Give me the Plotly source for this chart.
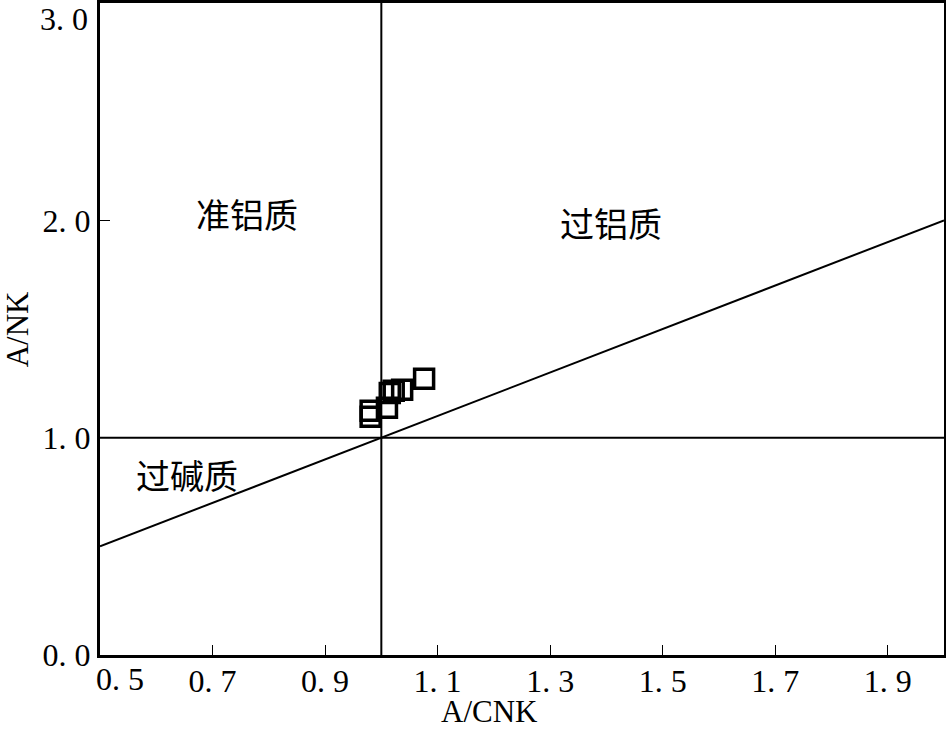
import plotly.graph_objects as go

# sample points (A/CNK, A/NK)
acnk = [0.981, 0.981, 1.010, 1.015, 1.022, 1.037, 1.076]
anks = [1.124, 1.096, 1.138, 1.206, 1.216, 1.220, 1.271]

# field boundaries
vline_x = [1.0, 1.0]
vline_y = [0.0, 3.0]
hline_x = [0.5, 2.0]
hline_y = [1.0, 1.0]
diag_x = [0.5, 2.0]
diag_y = [0.5, 2.0]

x_ticks = [0.5, 0.7, 0.9, 1.1, 1.3, 1.5, 1.7, 1.9]
x_labels = ["", "0. 7", "0. 9", "1. 1", "1. 3", "1. 5", "1. 7", "1. 9"]
y_ticks = [0.0, 1.0, 2.0, 3.0]
y_labels = ["0. 0", "1. 0", "2. 0", ""]

fields = ["准铝质", "过铝质", "过碱质"]
field_x = [0.762, 1.409, 0.655]
field_y = [2.032, 1.991, 0.830]

SERIF = "Liberation Serif, Times New Roman, serif"
CJK = "Noto Sans CJK SC"
FS = 32

fig = go.Figure()
line_style = {"color": "black", "width": 2}
for xs, ys in [(vline_x, vline_y), (hline_x, hline_y), (diag_x, diag_y)]:
    fig.add_trace(go.Scatter(x=xs, y=ys, mode="lines", line=line_style,
                             showlegend=False, hoverinfo="skip"))

fig.add_trace(go.Scatter(
    x=acnk, y=anks, mode="markers", showlegend=False,
    marker={"symbol": "square-open", "size": 19, "color": "black",
            "line": {"width": 3.5, "color": "black"}},
))

for text, x, y in zip(fields, field_x, field_y):
    fig.add_annotation(x=x, y=y, text=text, showarrow=False,
                       font={"family": CJK, "size": 34, "color": "black"})

# end labels that would be clipped at the plot corners
fig.add_annotation(x=-0.012, y=3.0, xref="paper", yref="y", text="3. 0",
                   showarrow=False, xanchor="right", yanchor="top", yshift=4,
                   font={"family": SERIF, "size": FS, "color": "black"})
fig.add_annotation(x=0.5, y=0, xref="x", yref="paper", text="0. 5",
                   showarrow=False, xanchor="left", yanchor="top",
                   xshift=-6, yshift=-4,
                   font={"family": SERIF, "size": FS, "color": "black"})

fig.add_annotation(x=0.462, y=-0.113, xref="paper", yref="paper", text="A/CNK",
                   showarrow=False, yanchor="bottom", yshift=-2,
                   font={"family": SERIF, "size": 31, "color": "black"})
fig.add_annotation(x=-0.098, y=0.5, xref="paper", yref="paper", text="A/NK",
                   showarrow=False, textangle=-90, xanchor="center",
                   font={"family": SERIF, "size": 31, "color": "black"})

axis_common = {
    "showline": True, "linecolor": "black", "linewidth": 3, "mirror": True,
    "ticks": "inside", "ticklen": 10, "tickwidth": 1, "tickcolor": "black",
    "showgrid": False, "zeroline": False, "automargin": False,
    "tickfont": {"family": SERIF, "size": FS, "color": "black"},
}
fig.update_xaxes(range=[0.5, 2.0], tickmode="array", tickvals=x_ticks,
                 ticktext=x_labels, ticklabelstandoff=-4, **axis_common)
fig.update_yaxes(range=[0, 3.0], tickmode="array", tickvals=y_ticks,
                 ticktext=y_labels, **axis_common)

fig.update_layout(
    width=946, height=729,
    margin={"l": 100, "r": 2, "t": 3, "b": 74},
    plot_bgcolor="white", paper_bgcolor="white",
)
fig.write_html(
    "out.html",
    config={"displayModeBar": False},
    post_script="document.body.style.margin='0';document.body.style.overflow='hidden';",
)
